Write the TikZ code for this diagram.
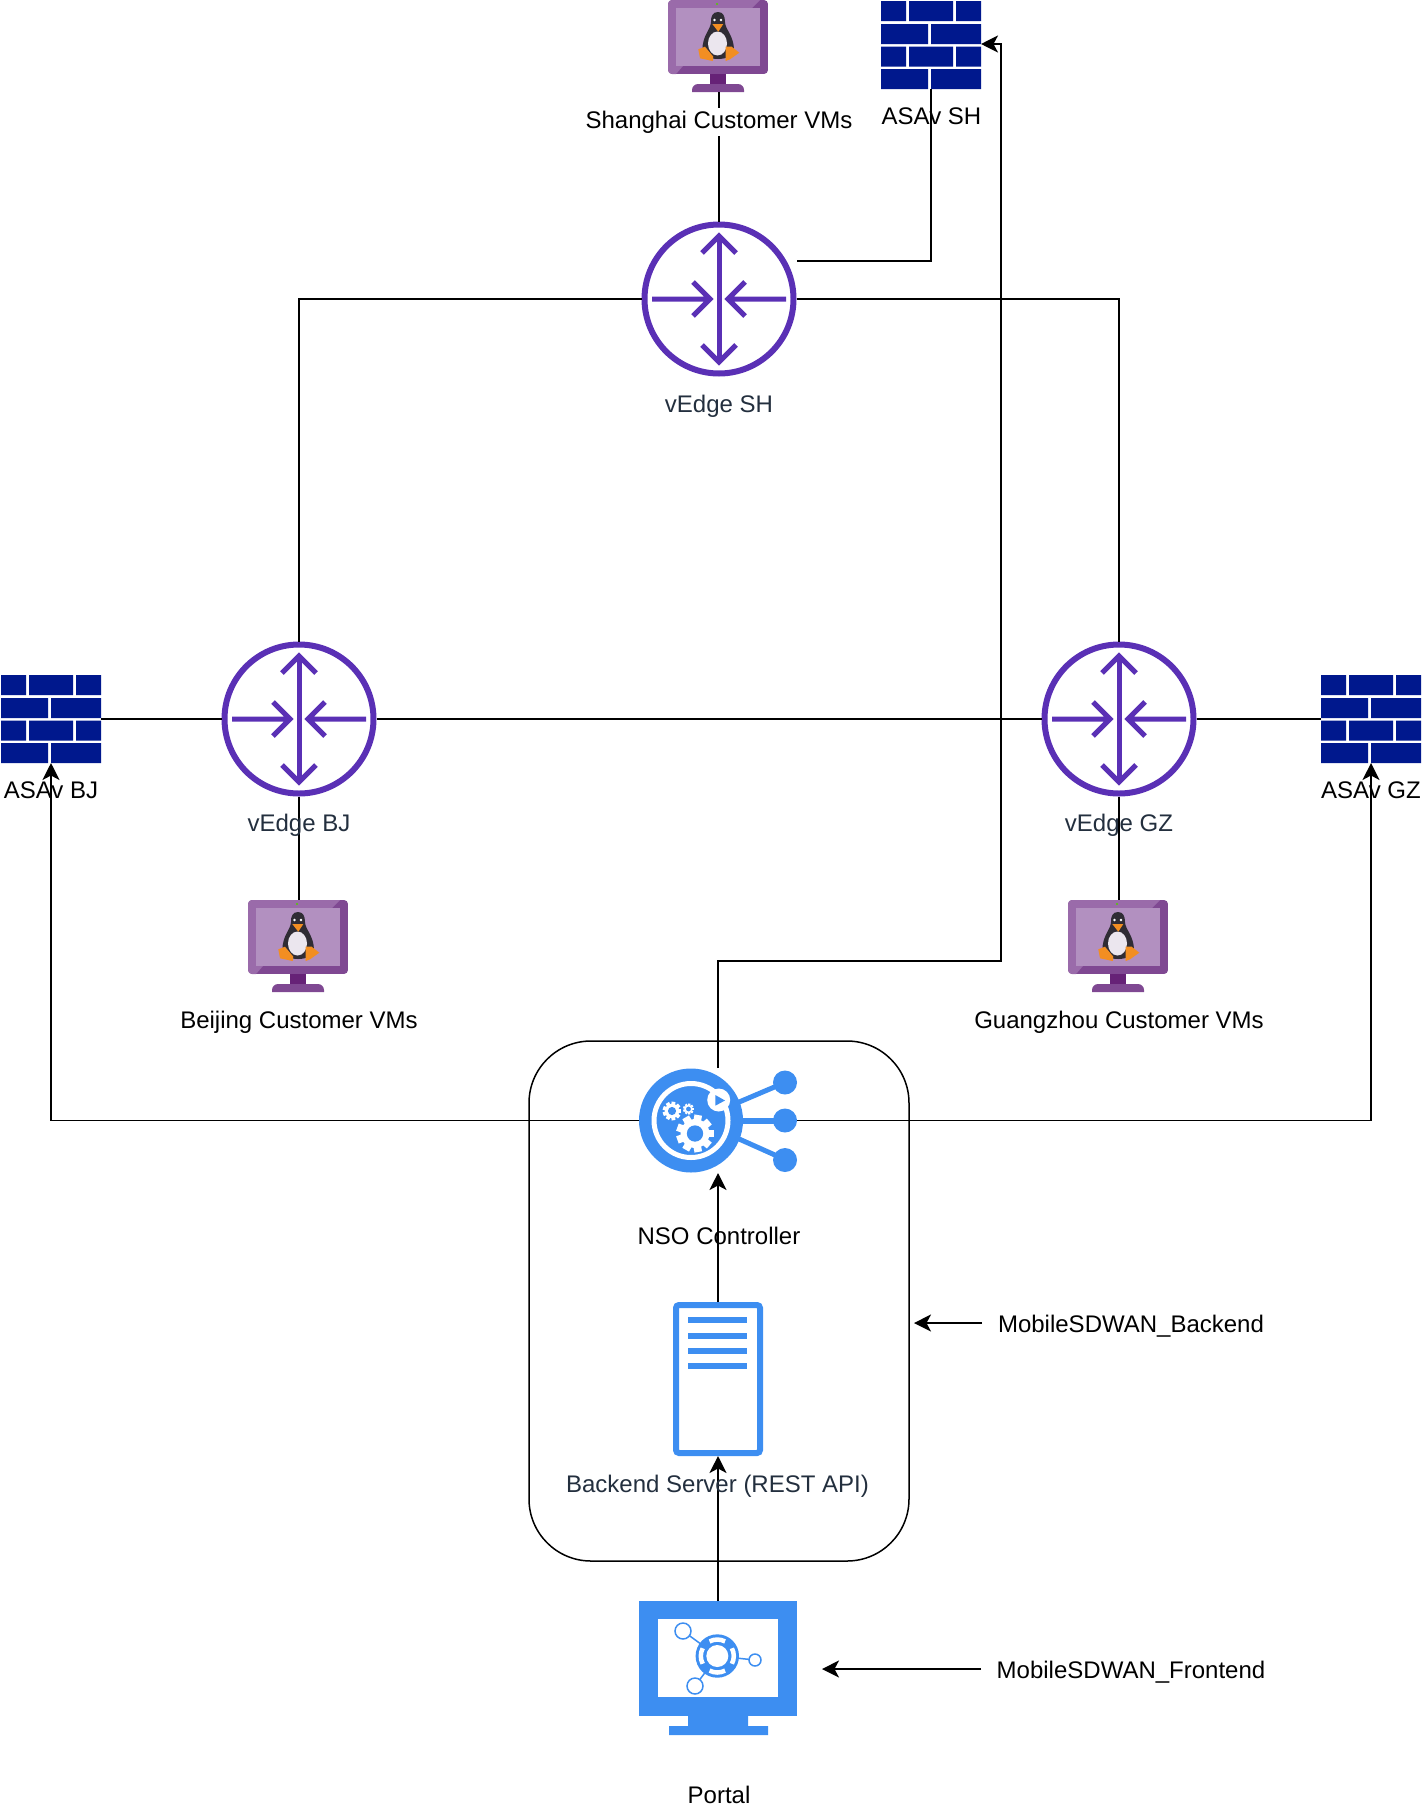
\documentclass[tikz,border=0pt]{standalone}
\usepackage{fontspec}
\setmainfont{Liberation Sans}
\usetikzlibrary{arrows.meta}
\usetikzlibrary{calc}
\definecolor{rtpurple}{HTML}{5A30B5}
\definecolor{fwblue}{HTML}{00188D}
\definecolor{nsoblue}{HTML}{3D8EF1}
\definecolor{awstext}{HTML}{232F3E}
\definecolor{vmlight}{HTML}{9A6BAA}
\definecolor{vmdark}{HTML}{7F4892}
\definecolor{vmscreen}{HTML}{B290C0}
\definecolor{vmneck}{HTML}{662277}
\definecolor{tuxdark}{HTML}{2F2C34}
\definecolor{tuxbelly}{HTML}{EBE6EE}
\definecolor{tuxorange}{HTML}{F28E22}
\newcommand{\nsogear}[3]{
	\foreach \a in {0,40,...,320}
		\draw[white,line width=#3*0.45pt] ($(#1,#2)+(\a:#3*0.75)$) -- ($(#1,#2)+(\a:#3*1.1)$);
	\fill[white] (#1,#2) circle[radius=#3*0.85];
	\fill[nsoblue] (#1,#2) circle[radius=#3*0.48];
}
\tikzset{
	x=1pt,y=-1pt,
	iconbox/.style={inner sep=0pt,outer sep=0pt,minimum width=#1},
	link/.style={line width=1.7pt,black},
	flow/.style={link,-{Stealth[length=17pt,width=17pt,inset=4.5pt]}},
	lbl/.style={anchor=base,inner sep=0pt,font=\fontsize{24}{28}\selectfont,text=black},
	awslbl/.style={lbl,text=awstext},
	% top left corner of the box is the origin of these
	vmicon/.pic={
		\begin{scope}
			\clip[rounded corners=4pt] (0,0) rectangle (100,74);
			\fill[vmdark] (0,0) rectangle (100,74);
			\fill[vmlight] (0,0) -- (92,0) -- (84,8) -- (15,66) -- (8,74) -- (0,74) -- cycle;
		\end{scope}
		\fill[vmscreen] (8,8) rectangle (92,66);
		\fill[vmneck] (42,74) rectangle (58,84);
		\fill[vmdark] (24,92) [rounded corners=6pt] -- (24,84) -- (76,84) [sharp corners] -- (76,92) -- cycle;
		\fill[green!60!yellow!80!black] (49,4) circle[radius=1.2];
		\fill[tuxdark] (50,12) .. controls (45,12) and (42.7,16) .. (43,22)
			.. controls (43,29) and (34,36) .. (34.5,50)
			.. controls (35,56) and (42,59) .. (50,59)
			.. controls (58,59) and (65.5,56) .. (66,50)
			.. controls (66,36) and (57,29) .. (57,22)
			.. controls (57,16) and (55,12) .. (50,12) -- cycle;
		\fill[tuxbelly] (49.5,43.5) ellipse[x radius=9.5,y radius=12];
		\fill[white] (46.5,20) circle[radius=1.4] (53,20) circle[radius=1.4];
		\fill[tuxorange] (44.3,24) -- (55.3,24) -- (50.3,31.7) -- cycle;
		\fill[tuxorange] (30.3,49.3) -- (37,46.7) -- (45.3,56.7) -- (44.7,61) -- (32,58.3) -- cycle;
		\fill[tuxorange] (57.7,46.7) -- (63.7,46.7) -- (71.3,52.7) -- (62,59.3) -- (57.7,61) -- cycle;
	},
	fwicon/.pic={
		\foreach \ya/\yb in {0/20,45.5/65.5}{
			\fill[fwblue] (0,\ya) rectangle (25,\yb) (28,\ya) rectangle (72,\yb) (75,\ya) rectangle (100,\yb);
		}
		\foreach \ya/\yb in {23/43,68/88}{
			\fill[fwblue] (0,\ya) rectangle (47,\yb) (50,\ya) rectangle (100,\yb);
		}
	},
	% these two have their origin in the centre
	routericon/.pic={
		\draw[rtpurple,line width=6pt] (0,0) circle[radius=74.5];
		\draw[rtpurple,line width=5pt] (0,-63) -- (0,63);
		\draw[rtpurple,line width=5pt] (-17,-46) -- (0,-63) -- (17,-46);
		\draw[rtpurple,line width=5pt] (-17,46) -- (0,63) -- (17,46);
		\draw[rtpurple,line width=5pt] (-67,0) -- (-9,0) (-26,-17) -- (-9,0) -- (-26,17);
		\draw[rtpurple,line width=5pt] (67,0) -- (9,0) (26,-17) -- (9,0) -- (26,17);
	},
	nsoicon/.pic={
		\draw[nsoblue,line width=5pt] (20,-18) -- (67,-38);
		\draw[nsoblue,line width=6pt] (20,0) -- (67,0);
		\draw[nsoblue,line width=5pt] (20,18) -- (67,39);
		\fill[nsoblue] (67,-38) circle[radius=12] (67,0) circle[radius=12] (67,39.5) circle[radius=12];
		\fill[nsoblue] (-27,0) circle[radius=52];
		\draw[white,line width=5pt] (-27,0) circle[radius=37];
		\fill[white] (0.7,-20.5) circle[radius=11.5];
		\fill[nsoblue] (-2.7,-25.5) -- (7,-20) -- (-2.7,-14.8) -- cycle;
		\nsogear{-23}{13}{17}
		\nsogear{-46}{-9.5}{8.5}
		\nsogear{-29.5}{-11.5}{5}
	},
	servericon/.pic={
		\draw[nsoblue,line width=6pt,rounded corners=3pt] (3,3) rectangle (87,151);
		\foreach \yy in {18,34,49,64}{
			\fill[nsoblue] (15,\yy-3) rectangle (74,\yy+3);
		}
	},
	portalicon/.pic={
		\fill[nsoblue] (0,0) rectangle (158,115);
		\fill[white] (19,18) rectangle (139,96);
		\fill[nsoblue] (49,115) rectangle (109,125) (30,125) rectangle (129,134);
		\draw[nsoblue,line width=1.5pt] (78.3,55) -- (44,30) (78.3,55) -- (56,85) (78.3,55) -- (116,59);
		\draw[nsoblue,line width=1.5pt,fill=white] (44,30) circle[radius=8] (56,85) circle[radius=8] (116,59) circle[radius=6];
		\fill[nsoblue] (78.3,55) circle[radius=21.7];
		\fill[white] (78.3,55) circle[radius=11];
		\foreach \a in {0,90,180,270}{
			\draw[white,line width=4.5pt] ($(78.3,55)+(\a-28:16.5)$) arc[start angle=\a-28,end angle=\a+28,radius=16.5];
		}
	}
}
\begin{document}
\begin{tikzpicture}
	\useasboundingbox (0,0) rectangle (1422,1812);

	\node[iconbox=100pt,minimum height=92pt] (vmSH) at (718,46) {};
	\node[iconbox=100pt,minimum height=92pt] (vmBJ) at (298,946) {};
	\node[iconbox=100pt,minimum height=92pt] (vmGZ) at (1118,946) {};
	\node[iconbox=100pt,minimum height=88pt] (fwSH) at (931,45) {};
	\node[iconbox=100pt,minimum height=88pt] (fwBJ) at (51,719) {};
	\node[iconbox=100pt,minimum height=88pt] (fwGZ) at (1371,719) {};
	\node[iconbox=155pt,minimum height=155pt] (rtSH) at (719,299) {};
	\node[iconbox=155pt,minimum height=155pt] (rtBJ) at (299,719) {};
	\node[iconbox=155pt,minimum height=155pt] (rtGZ) at (1119,719) {};
	\node[iconbox=158pt,minimum height=105pt] (nso) at (718,1120.5) {};
	\node[iconbox=90pt,minimum height=154pt] (backend) at (718,1379) {};
	\node[iconbox=158pt,minimum height=134pt] (portal) at (718,1668) {};
	\node[iconbox=380pt,minimum height=520pt,draw,line width=1.5pt,rounded corners=62pt] (backendBox) at (719,1301) {};

	\coordinate (rtSHport) at (797,261);
	\coordinate (nsoTurn) at (1001,961);
	\coordinate (nsoRise) at (1001,44);
	\coordinate (backendIn) at (914,1323);
	\coordinate (backendOut) at (982,1323);
	\coordinate (portalIn) at (822,1669);
	\coordinate (portalOut) at (981,1669);

	\pic at (vmSH.north west) {vmicon};
	\pic at (vmBJ.north west) {vmicon};
	\pic at (vmGZ.north west) {vmicon};
	\pic at (fwSH.north west) {fwicon};
	\pic at (fwBJ.north west) {fwicon};
	\pic at (fwGZ.north west) {fwicon};
	\pic at (rtSH) {routericon};
	\pic at (rtBJ) {routericon};
	\pic at (rtGZ) {routericon};
	\pic at (nso) {nsoicon};
	\pic at (backend.north west) {servericon};
	\pic at (portal.north west) {portalicon};

	\draw[link] (rtSH.north) -- (rtSH.north |- vmSH.south);
	\draw[link] (rtSHport) -| (fwSH.south);
	\draw[link] (rtSH.west) -| (rtBJ.north);
	\draw[link] (rtSH.east) -| (rtGZ.north);
	\draw[link] (fwBJ.east) -- (rtBJ.west);
	\draw[link] (rtBJ.east) -- (rtGZ.west);
	\draw[link] (rtGZ.east) -- (fwGZ.west);
	\draw[link] (rtBJ.south) -- (rtBJ.south |- vmBJ.north);
	\draw[link] (rtGZ.south) -- (rtGZ.south |- vmGZ.north);

	\draw[flow] (nso.north) |- (nsoTurn) -- (nsoRise) -- (fwSH.east |- nsoRise);
	\draw[flow] (nso.west) -| (fwBJ.south);
	\draw[flow] (nso.east) -| (fwGZ.south);
	\draw[flow] (backend.north) -- (nso.south);
	\draw[flow] (portal.north) -- (backend.south);
	\draw[flow] (backendOut) -- (backendIn);
	\draw[flow] (portalOut) -- (portalIn);

	\node[lbl,fill=white,inner ysep=3pt] (lblVmSH) at (719,128) {Shanghai Customer VMs};
	\node[lbl] (lblFwSH) at (931.5,124) {ASAv SH};
	\node[awslbl] (lblRtSH) at (719,412) {vEdge SH};
	\node[lbl] (lblFwBJ) at (51,798) {ASAv BJ};
	\node[awslbl] (lblRtBJ) at (299,831.5) {vEdge BJ};
	\node[lbl] (lblVmBJ) at (299,1028) {Beijing Customer VMs};
	\node[awslbl] (lblRtGZ) at (1119,831.5) {vEdge GZ};
	\node[lbl] (lblFwGZ) at (1371,798) {ASAv GZ};
	\node[lbl] (lblVmGZ) at (1119,1028) {Guangzhou Customer VMs};
	\node[lbl] (lblNso) at (719,1244) {NSO Controller};
	\node[awslbl] (lblBackend) at (717.5,1492) {Backend Server (REST API)};
	\node[lbl] (lblBackendApp) at (1131,1332) {MobileSDWAN\_Backend};
	\node[lbl] (lblPortalApp) at (1131,1678) {MobileSDWAN\_Frontend};
	\node[lbl] (lblPortal) at (719,1803.5) {Portal};
\end{tikzpicture}
\end{document}
